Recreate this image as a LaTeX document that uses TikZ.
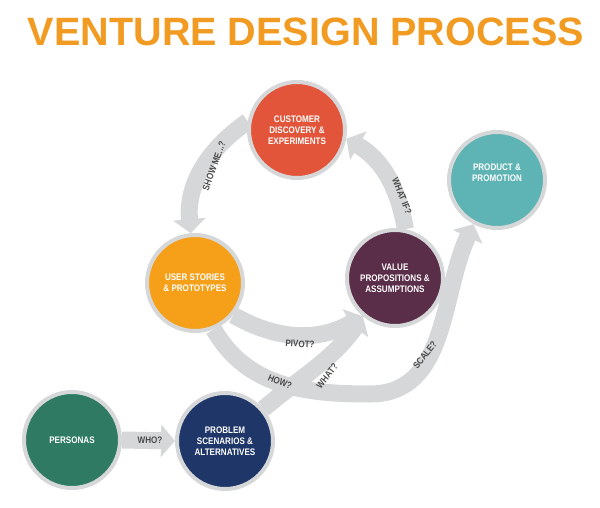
\documentclass[tikz,border=0pt]{standalone}
\usepackage{fontspec}
\setmainfont{Liberation Sans}
\usetikzlibrary{arrows.meta}
\definecolor{ttl}{HTML}{F19B22}
\definecolor{band}{HTML}{D6D7D8}
\definecolor{lbl}{HTML}{4A4A4A}
\definecolor{cred}{HTML}{E2553A}
\definecolor{corg}{HTML}{F6A01A}
\definecolor{cpur}{HTML}{5A2D48}
\definecolor{cteal}{HTML}{5EB3B4}
\definecolor{cgrn}{HTML}{2F7A63}
\definecolor{cnav}{HTML}{1E3668}
\pgfdeclarelayer{bg}
\pgfsetlayers{bg,main}
\begin{document}
\begin{tikzpicture}[x=1pt,y=-1pt,
  stage/.style={circle,draw=band,line width=4pt,minimum size=96pt,inner sep=0pt,align=center,text=white,font=\bfseries\fontsize{9.5}{11}\selectfont},
  flow/.style={band,line width=17pt,-{Triangle[length=14pt,width=32pt]}},
  tag/.style={text=lbl,font=\bfseries\fontsize{9.5}{11}\selectfont}]
\useasboundingbox (0,0) rectangle (600,508);
\node[text=ttl,font=\bfseries] (title) at (306,32) {\resizebox{556pt}{!}{VENTURE DESIGN PROCESS}};
\node[stage,fill=cred] (cust) at (297,130) {\scalebox{0.85}[1]{\parbox{90pt}{\centering CUSTOMER\\DISCOVERY \&\\EXPERIMENTS}}};
\node[stage,fill=corg] (user) at (195,283) {\scalebox{0.85}[1]{\parbox{100pt}{\centering USER STORIES\\\& PROTOTYPES}}};
\node[stage,fill=cpur] (val) at (395,278) {\scalebox{0.85}[1]{\parbox{100pt}{\centering VALUE\\PROPOSITIONS \&\\ASSUMPTIONS}}};
\node[stage,fill=cteal] (prod) at (497,180) {\scalebox{0.85}[1]{\parbox{90pt}{\centering PRODUCT \&\\PROMOTION\\[14pt]}}};
\node[stage,fill=cgrn] (pers) at (72,440) {\scalebox{0.85}[1]{PERSONAS}};
\node[stage,fill=cnav] (prob) at (225,441) {\scalebox{0.85}[1]{\parbox{90pt}{\centering PROBLEM\\SCENARIOS \&\\ALTERNATIVES}}};
\coordinate (bend) at (370,394);
\begin{pgfonlayer}{bg}
\draw[flow] (cust.170) to[out=215,in=95] (user.95);
\draw[flow] (val.78) to[out=100,in=-30] (cust.-10);
\draw[flow] (user.-68) to[out=-60,in=180] (bend) to[out=0,in=-115] (prod.-118);
\draw[flow] (user.-40) to[out=-30,in=-150] (val.-130);
\draw[flow] (prob.40) to[out=40,in=-125] (val.-130);
\draw[flow] (pers.east) -- (prob.west);
\end{pgfonlayer}
\node[tag,rotate=70] (l1) at (214,166) {\scalebox{0.85}[1]{SHOW ME...?}};
\node[tag,rotate=-68] (l2) at (402,196) {\scalebox{0.85}[1]{WHAT IF?}};
\node[tag,rotate=-3] (l3) at (300,344) {\scalebox{0.85}[1]{PIVOT?}};
\node[tag,rotate=-22] (l4) at (280,382) {\scalebox{0.85}[1]{HOW?}};
\node[tag,rotate=52] (l5) at (327,376) {\scalebox{0.85}[1]{WHAT?}};
\node[tag,rotate=52] (l6) at (425,355) {\scalebox{0.85}[1]{SCALE?}};
\node[tag] (l7) at (150,440) {\scalebox{0.85}[1]{WHO?}};
\end{tikzpicture}
\end{document}
